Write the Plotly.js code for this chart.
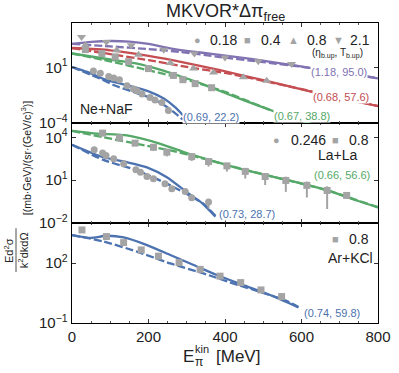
<!DOCTYPE html>
<html>
<head>
<meta charset="utf-8">
<script src="https://cdn.plot.ly/plotly-3.0.1.min.js"></script>
<style>
  body { margin: 0; background: #fff; }
  #chart { width: 399px; height: 373px; }
</style>
</head>
<body>
<div id="chart"></div>
<script>
// values, E_kin in MeV, cross sections as plotted (scaled)

// --- Ne+NaF (top panel) ---
const neSolidE_purple = [0, 50, 100, 150, 200, 257, 310, 370, 473, 550, 622, 700, 800];
const neSolid_purple  = [1.3e3, 2.0e3, 2.4e3, 2.1e3, 1.3e3, 5.2e2, 2.8e2, 1.6e2, 56, 22, 9.3, 3.5, 1.05];
const neDashE_purple  = [0, 100, 200, 283, 387, 500, 620, 700, 800];
const neDash_purple   = [1.3e3, 7.9e2, 4.5e2, 2.5e2, 87, 30, 9.3, 3.5, 1.1];

const neSolidE_red = [0, 100, 200, 300, 387, 500, 622, 700, 800];
const neSolid_red  = [5.6e2, 3.5e2, 1.1e2, 25, 5.6, 0.71, 0.071, 0.018, 3.3e-3];
const neDashE_red  = [0, 100, 200, 300, 400, 500, 622, 700, 800];
const neDash_red   = [5.6e2, 1.6e2, 45, 11, 3.2, 0.63, 0.076, 0.018, 3.5e-3];

const neSolidE_green = [0, 100, 170, 230, 283, 350, 400, 450, 520, 600, 660];
const neSolid_green  = [1.8e2, 52, 22, 6.3, 1.6, 0.25, 0.05, 0.011, 1.4e-3, 1.6e-4, 3.2e-5];
const neDashE_green  = [0, 100, 200, 300, 400, 450, 520, 600, 660];
const neDash_green   = [1.8e2, 35, 5.6, 0.79, 0.063, 0.0126, 1.4e-3, 1.6e-4, 3.2e-5];

const neSolidE_blue = [0, 40, 80, 120, 160, 200, 240, 270, 290];
const neSolid_blue  = [11, 4.0, 1.0, 0.40, 0.18, 0.071, 0.016, 2.5e-3, 5.0e-4];
const neDashE_blue  = [0, 80, 110, 160, 213, 250, 290];
const neDash_blue   = [11, 0.79, 0.25, 0.063, 0.014, 2.5e-3, 2.0e-4];

const nePtsE_018 = [56, 74, 96, 109, 124, 144, 161, 170, 183, 204, 217, 235, 252];
const nePts_018  = [4.7, 3.0, 1.5, 1.15, 0.76, 0.23, 0.115, 0.079, 0.041, 0.020, 0.0115, 7.1e-3, 1.3e-3];
const nePtsE_04  = [35, 78, 113, 148, 200, 265, 290, 322, 365];
const nePts_04   = [4.0e2, 1.8e2, 89, 33, 7.9, 1.9, 0.79, 0.35, 0.15];
const nePtsE_08  = [35, 117, 174, 257, 318, 370, 448, 509];
const nePts_08   = [1.0e3, 3.5e2, 1.4e2, 25, 7.9, 3.5, 1.3, 0.63];
const nePtsE_21  = [25, 90, 155, 240, 320, 400, 487, 574];
const nePts_21   = [5.6e3, 2.0e3, 1.0e3, 4.0e2, 1.8e2, 79, 37, 20];

// --- La+La (middle panel) ---
const laSolidE_green = [0, 65, 144, 231, 300, 361, 431, 500, 580, 666, 730, 800];
const laSolid_green  = [2.8e4, 1.8e4, 1.35e4, 3.5e3, 7.9e2, 2.5e2, 71, 25, 7.9, 2.0, 0.5, 0.126];
const laDashE_green  = [0, 82, 170, 257, 344, 420, 500, 580, 666, 800];
const laDash_green   = [2.8e4, 1.0e4, 3.5e3, 1.2e3, 3.2e2, 89, 25, 7.9, 2.0, 0.126];

const laSolidE_blue = [0, 82, 144, 196, 248, 300, 340, 375];
const laSolid_blue  = [3.0e3, 4.0e2, 1.8e2, 79, 16, 1.45, 0.25, 0.028];
const laDashE_blue  = [0, 82, 170, 257, 344, 375];
const laDash_blue   = [3.0e3, 2.6e2, 48, 4.3, 0.22, 0.032];

const laPtsE_0246 = [58, 80, 89, 109, 135, 167, 179, 196, 213, 243, 261, 296, 313, 357];
const laPts_0246  = [1.35e3, 7.8e2, 5.4e2, 3.2e2, 1.4e2, 54, 36, 18, 12.6, 5.6, 2.5, 1.6, 0.59, 0.29];
const laErrDec_0246 = [0, 0, 0, 0, 0, 0, 0.15, 0.1, 0, 0, 0, 0, 0.1, 0.45];   // error bar length below the point, decades
const laPtsE_08 = [80, 124, 165, 213, 248, 313, 357, 405, 453, 505, 559, 614, 667, 718];
const laPts_08  = [1.95e4, 9.1e3, 3.9e3, 2.0e3, 9.1e2, 4.4e2, 2.0e2, 1.0e2, 41, 18, 9.5, 4.3, 1.9, 0.85];
const laErrDec_08 = [0.1, 0.12, 0.2, 0.25, 0.3, 0.3, 0.35, 0.4, 0.5, 0.6, 0.8, 0.85, 1.3, 0];

// --- Ar+KCl (bottom panel) ---
const arSolidE_blue = [0, 48, 91, 135, 196, 257, 318, 379, 448, 518, 592];
const arSolid_blue  = [2.5e3, 1.8e3, 2.3e3, 1.9e3, 7.9e2, 2.5e2, 79, 25, 7.9, 2.5, 0.6];
const arDashE_blue  = [0, 82, 170, 257, 344, 431, 500, 560, 592];
const arDash_blue   = [2.5e3, 1.2e3, 3.7e2, 95, 30, 8.3, 3.2, 1.3, 0.63];
const arPtsE_08 = [26, 90, 135, 181, 226, 280, 335, 387, 441, 494, 548];
const arPts_08  = [4.5e3, 2.1e3, 1.05e3, 4.5e2, 2.2e2, 1.05e2, 48, 22, 10.5, 4.5, 2.1];

// curve labels (eta_b.up, T_b.up)
const neLabels = ['(1.18, 95.0)', '(0.68, 57.6)', '(0.67, 38.8)', '(0.69, 22.2)'];
const laLabels = ['(0.66, 56.6)', '(0.73, 28.7)'];
const arLabels = ['(0.74, 59.8)'];

const BLUE = '#4c72b0', GREEN = '#55a868', RED = '#c44e52', PURPLE = '#8172b2', GRAY = '#a4a4a4';
const FONT = 'Liberation Sans, Arial, sans-serif';

function curve(x, y, color, dashed, xa, ya) {
  return {
    x: x, y: y, mode: 'lines', xaxis: xa, yaxis: ya, showlegend: false,
    line: {color: color, width: 2.3, dash: dashed ? '8px,3px' : 'solid', shape: 'spline', smoothing: 0.6}
  };
}

function points(x, y, symbol, xa, ya, errDec) {
  let t = {
    x: x, y: y, mode: 'markers', xaxis: xa, yaxis: ya, showlegend: false,
    marker: {symbol: symbol, color: GRAY, size: symbol.indexOf('triangle') >= 0 ? 8 : 7}
  };
  if (errDec) {
    // symmetric linear error that reaches errDec decades below the point
    let sig = y.map((v, i) => v * (1 - Math.pow(10, -errDec[i])));
    t.error_y = {type: 'data', array: sig, visible: true, color: GRAY, thickness: 2, width: 0};
  }
  return t;
}

var data = [
  curve(neSolidE_purple, neSolid_purple, PURPLE, false, 'x3', 'y3'),
  curve(neDashE_purple, neDash_purple, PURPLE, true, 'x3', 'y3'),
  curve(neSolidE_red, neSolid_red, RED, false, 'x3', 'y3'),
  curve(neDashE_red, neDash_red, RED, true, 'x3', 'y3'),
  curve(neSolidE_green, neSolid_green, GREEN, false, 'x3', 'y3'),
  curve(neDashE_green, neDash_green, GREEN, true, 'x3', 'y3'),
  curve(neSolidE_blue, neSolid_blue, BLUE, false, 'x3', 'y3'),
  curve(neDashE_blue, neDash_blue, BLUE, true, 'x3', 'y3'),
  points(nePtsE_018, nePts_018, 'circle', 'x3', 'y3'),
  points(nePtsE_04, nePts_04, 'square', 'x3', 'y3'),
  points(nePtsE_08, nePts_08, 'triangle-up', 'x3', 'y3'),
  points(nePtsE_21, nePts_21, 'triangle-down', 'x3', 'y3'),

  curve(laSolidE_green, laSolid_green, GREEN, false, 'x2', 'y2'),
  curve(laDashE_green, laDash_green, GREEN, true, 'x2', 'y2'),
  curve(laSolidE_blue, laSolid_blue, BLUE, false, 'x2', 'y2'),
  curve(laDashE_blue, laDash_blue, BLUE, true, 'x2', 'y2'),
  points(laPtsE_0246, laPts_0246, 'circle', 'x2', 'y2', laErrDec_0246),
  points(laPtsE_08, laPts_08, 'square', 'x2', 'y2', laErrDec_08),

  curve(arSolidE_blue, arSolid_blue, BLUE, false, 'x', 'y'),
  curve(arDashE_blue, arDash_blue, BLUE, true, 'x', 'y'),
  points(arPtsE_08, arPts_08, 'square', 'x', 'y')
];

function xax(labels) {
  return {
    range: [0, 800], showline: true, linecolor: '#000', linewidth: 1.3, mirror: 'allticks',
    ticks: 'inside', ticklen: 4, tickcolor: '#333', tickvals: [0, 200, 400, 600, 800],
    minor: {dtick: 50, ticks: 'inside', ticklen: 2, tickcolor: '#555'},
    showgrid: false, zeroline: false, showticklabels: labels,
    tickfont: {size: 15, color: '#222'}, fixedrange: true
  };
}

function yax(dom, range, vals) {
  return {
    type: 'log', domain: dom, range: range, showline: true, linecolor: '#000', linewidth: 1.3,
    mirror: 'allticks', ticks: 'inside', ticklen: 4, tickcolor: '#333', showgrid: false, zeroline: false,
    tickvals: vals.map(p => Math.pow(10, p)),
    ticktext: vals.map(p => '10<sup>' + (p < 0 ? '\u2212' + (-p) : p) + '</sup>'),
    tickfont: {size: 15, color: '#222'}, fixedrange: true
  };
}

// annotation helper: x in MeV, y in log10 units of the panel
function note(text, x, y, ya, opts) {
  return Object.assign({
    text: text, x: x, y: y, xref: ya.replace('y', 'x'), yref: ya, showarrow: false,
    xanchor: 'left', yanchor: 'middle', font: {family: FONT, size: 14, color: '#222'}
  }, opts || {});
}
function sym(glyph, x, y, ya) {
  return note(glyph, x, y, ya, {xanchor: 'center', font: {family: FONT, size: 11, color: GRAY}});
}
function lab(text, x, y, ya, color) {
  return note(text, x, y, ya, {font: {family: FONT, size: 11, color: color}, bgcolor: '#fff', borderpad: 0});
}
function pnote(text, x, y, opts) {
  return Object.assign({
    text: text, x: x, y: y, xref: 'paper', yref: 'paper', showarrow: false,
    xanchor: 'center', yanchor: 'middle', borderpad: 0, font: {family: FONT, size: 17, color: '#222'}
  }, opts || {});
}
const small = s => ({family: FONT, size: s, color: '#222'});

var annotations = [
  // title
  pnote('MKVOR*\u0394\u03C0<sub>free</sub>', 0.5, 1.035, {font: small(18)}),

  // top panel legend
  sym('\u25CF', 329, 3.45, 'y3'), note('0.18', 355, 3.45, 'y3'),
  sym('\u25A0', 460, 3.45, 'y3'), note('0.4', 490, 3.45, 'y3'),
  sym('\u25B2', 578, 3.45, 'y3'), note('0.8', 609, 3.45, 'y3'),
  sym('\u25BC', 696, 3.45, 'y3'), note('2.1', 722, 3.45, 'y3'),
  note('(\u03B7<sub>b.up</sub>, T<sub>b.up</sub>)', 695, 2.3, 'y3', {xanchor: 'center', font: small(10)}),
  note('Ne+NaF', 16, -2.75, 'y3'),
  lab(neLabels[0], 621, 0.57, 'y3', PURPLE),
  lab(neLabels[1], 627, -1.64, 'y3', RED),
  lab(neLabels[2], 525, -3.36, 'y3', GREEN),
  lab(neLabels[3], 287, -3.45, 'y3', BLUE),

  // middle panel
  sym('\u25CF', 534, 3.81, 'y2'), note('0.246', 566, 3.81, 'y2'),
  sym('\u25A0', 689, 3.81, 'y2'), note('0.8', 718, 3.81, 'y2'),
  note('La+La', 752, 2.73, 'y2', {xanchor: 'right'}),
  lab(laLabels[0], 629, 1.33, 'y2', GREEN),
  lab(laLabels[1], 381, -1.4, 'y2', BLUE),

  // bottom panel
  sym('\u25A0', 689, 3.19, 'y'), note('0.8', 718, 3.19, 'y'),
  note('Ar+KCl', 791, 2.25, 'y', {xanchor: 'right'}),
  lab(arLabels[0], 603, -0.49, 'y', BLUE),

  // x title, stacked sub/superscript
  pnote('E', 0.402, -0.11, {xanchor: 'right'}),
  pnote('kin', 0.398, -0.088, {xanchor: 'left', font: small(11)}),
  pnote('\u03C0', 0.398, -0.13, {xanchor: 'left', font: small(12)}),
  pnote('[MeV]', 0.466, -0.11, {xanchor: 'left'}),

  // y title as a rotated fraction plus units
  pnote('Ed<sup>2</sup>\u03C3', -0.206, 0.243, {textangle: -90, font: small(11)}),
  pnote('k<sup>2</sup>dkd\u03A9', -0.16, 0.243, {textangle: -90, font: small(11)}),
  pnote('[(mb\u00B7GeV)/(sr\u00B7(GeV/c)<sup>3</sup>)]', -0.153, 0.55, {textangle: -90, font: small(10.5)})
];

var layout = {
  width: 399, height: 373,
  margin: {l: 72, r: 21, t: 23, b: 50, pad: 0},
  paper_bgcolor: '#fff', plot_bgcolor: '#fff',
  font: {family: FONT, color: '#222'},
  xaxis: Object.assign(xax(true), {anchor: 'y'}),
  xaxis2: Object.assign(xax(false), {anchor: 'y2', matches: 'x'}),
  xaxis3: Object.assign(xax(false), {anchor: 'y3', matches: 'x'}),
  yaxis: yax([0, 0.3333], [-1, 4], [-1, 2]),
  yaxis2: yax([0.3333, 0.6667], [-2, 5], [-2, 1, 4]),
  yaxis3: yax([0.6667, 1], [-4, 5], [-4, 1]),
  shapes: [
    // fraction bar of the y title
    {type: 'line', xref: 'paper', yref: 'paper', x0: -0.183, x1: -0.183, y0: 0.17, y1: 0.316,
     line: {color: '#222', width: 0.8}}
  ],
  annotations: annotations,
  showlegend: false
};

Plotly.newPlot('chart', data, layout, {staticPlot: true, displayModeBar: false});
</script>
</body>
</html>
